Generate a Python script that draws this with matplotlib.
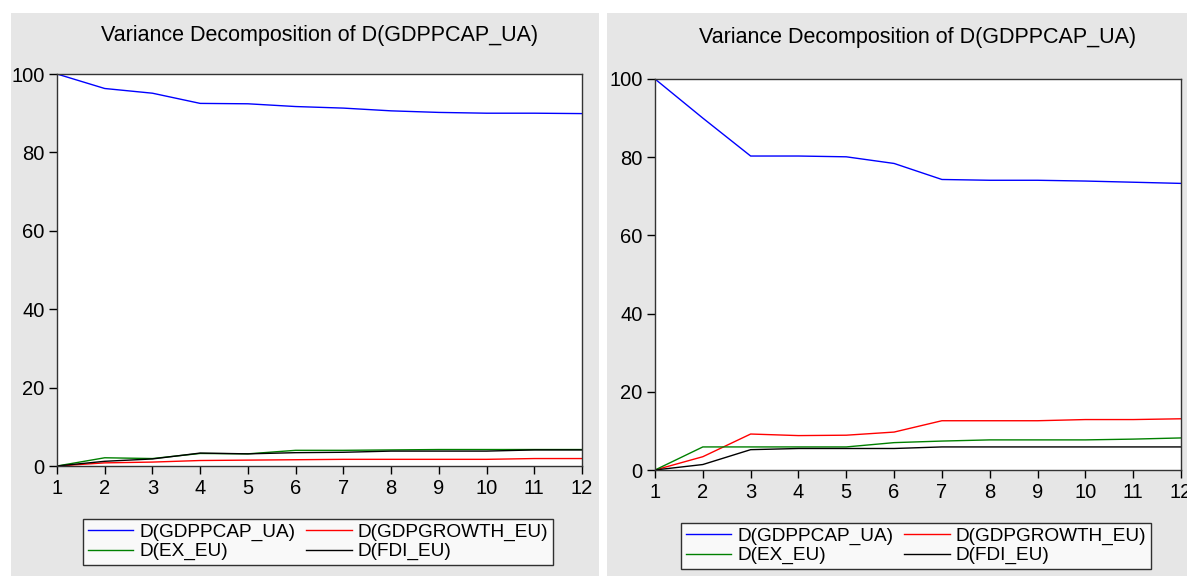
import matplotlib.pyplot as plt
from matplotlib.patches import Rectangle

plt.rcParams['font.family'] = ['Liberation Sans', 'DejaVu Sans']

periods = list(range(1, 13))
title = 'Variance Decomposition of D(GDPPCAP_UA)'
labels = ['D(GDPPCAP_UA)', 'D(GDPGROWTH_EU)', 'D(EX_EU)', 'D(FDI_EU)']
colors = ['#0000ff', '#ff0000', '#008000', '#000000']

# left panel
left_gdppcap = [100, 96.3, 95.1, 92.5, 92.4, 91.7, 91.3, 90.6, 90.2, 90.0, 90.0, 89.9]
left_gdpgrowth = [0, 0.8, 1.0, 1.4, 1.5, 1.6, 1.7, 1.7, 1.7, 1.7, 1.9, 1.9]
left_ex = [0, 2.1, 1.9, 3.2, 3.1, 4.0, 4.0, 4.1, 4.2, 4.2, 4.2, 4.2]
left_fdi = [0, 1.2, 1.8, 3.3, 3.1, 3.4, 3.5, 3.8, 3.8, 3.8, 4.1, 4.1]

# right panel
right_gdppcap = [100, 90.0, 80.3, 80.3, 80.1, 78.4, 74.3, 74.1, 74.1, 73.9, 73.6, 73.3]
right_gdpgrowth = [0, 3.4, 9.2, 8.8, 8.9, 9.7, 12.6, 12.6, 12.6, 12.9, 12.9, 13.1]
right_ex = [0, 5.9, 5.9, 5.9, 5.9, 7.0, 7.4, 7.7, 7.7, 7.7, 7.9, 8.2]
right_fdi = [0, 1.4, 5.2, 5.5, 5.5, 5.5, 5.9, 5.9, 5.9, 5.9, 5.9, 5.9]

W, H = 1187, 576
fig = plt.figure(figsize=(W / 100, H / 100), dpi=100)
fig.patch.set_facecolor('white')

# gray panel backgrounds (pixel boxes -> figure fractions)
for x0, x1 in [(11, 599), (607, 1187)]:
    fig.add_artist(Rectangle((x0 / W, 0), (x1 - x0) / W, (H - 13) / H,
                             transform=fig.transFigure, facecolor='#e6e6e6',
                             edgecolor='none', zorder=-10))


def panel(box, series, title_y, legend_center):
    x0, x1, top, bottom = box
    ax = fig.add_axes([x0 / W, (H - bottom) / H, (x1 - x0) / W, (bottom - top) / H])
    ax.set_facecolor('white')
    lines = []
    for vals, lab, c in zip(series, labels, colors):
        ln, = ax.plot(periods, vals, color=c, lw=1.0, label=lab)
        lines.append(ln)
    ax.set_xlim(1, 12)
    ax.set_ylim(0, 100)
    ax.set_xticks(periods)
    ax.set_yticks([0, 20, 40, 60, 80, 100])
    ax.tick_params(direction='out', length=6, width=1, labelsize=14.5, pad=3)
    for s in ax.spines.values():
        s.set_linewidth(1.0)
        s.set_color('#333333')
    fig.text((x0 + x1) / 2 / W, 1 - title_y / H, title, ha='center', va='center',
             fontsize=15.5)
    # legend filled row-wise like EViews: column order is 0,2 | 1,3
    order = [0, 2, 1, 3]
    leg = ax.legend([lines[i] for i in order], [labels[i] for i in order],
                    loc='center', bbox_to_anchor=(legend_center[0] / W, 1 - legend_center[1] / H),
                    bbox_transform=fig.transFigure, ncol=2, fontsize=13.7,
                    frameon=True, fancybox=False, handlelength=2.4, handletextpad=0.3,
                    columnspacing=0.6, labelspacing=0.1, borderpad=0.25)
    leg.get_frame().set_edgecolor('black')
    leg.get_frame().set_linewidth(1.0)
    return ax


panel((57, 582, 74, 466), [left_gdppcap, left_gdpgrowth, left_ex, left_fdi], 35, (318, 542))
panel((655, 1181, 79, 470), [right_gdppcap, right_gdpgrowth, right_ex, right_fdi], 37, (916, 546))

fig.savefig('out.png', dpi=100)
